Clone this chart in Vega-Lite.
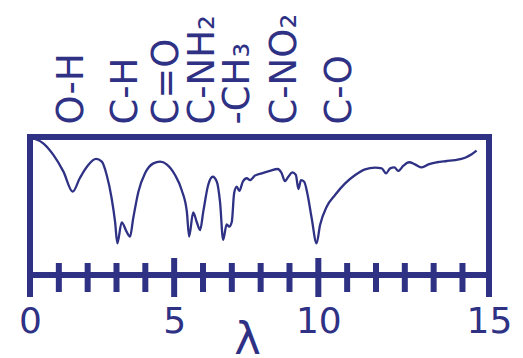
{
  "$schema": "https://vega.github.io/schema/vega-lite/v6.json",
  "width": 459,
  "height": 138,
  "autosize": "none",
  "padding": {"left": 30, "top": 137, "right": 34, "bottom": 83},
  "background": "white",
  "view": {"stroke": "#2e3184", "strokeWidth": 6},
  "datasets": {
    "spectrum": [
      {"lambda": 0.11, "T": 99.1},
      {"lambda": 0.46, "T": 95.4},
      {"lambda": 0.81, "T": 87.0},
      {"lambda": 1.16, "T": 74.9},
      {"lambda": 1.48, "T": 60.4},
      {"lambda": 1.73, "T": 70.3},
      {"lambda": 2.02, "T": 79.7},
      {"lambda": 2.29, "T": 84.1},
      {"lambda": 2.49, "T": 82.1},
      {"lambda": 2.66, "T": 72.5},
      {"lambda": 2.83, "T": 55.8},
      {"lambda": 2.95, "T": 38.6},
      {"lambda": 3.03, "T": 23.0},
      {"lambda": 3.18, "T": 38.2},
      {"lambda": 3.35, "T": 31.4},
      {"lambda": 3.47, "T": 27.8},
      {"lambda": 3.58, "T": 41.1},
      {"lambda": 3.76, "T": 60.4},
      {"lambda": 3.99, "T": 73.7},
      {"lambda": 4.28, "T": 80.9},
      {"lambda": 4.51, "T": 82.1},
      {"lambda": 4.74, "T": 80.2},
      {"lambda": 5.03, "T": 72.5},
      {"lambda": 5.26, "T": 61.6},
      {"lambda": 5.44, "T": 45.9},
      {"lambda": 5.52, "T": 27.8},
      {"lambda": 5.66, "T": 45.4},
      {"lambda": 5.78, "T": 38.6},
      {"lambda": 5.90, "T": 32.6},
      {"lambda": 6.01, "T": 45.9},
      {"lambda": 6.18, "T": 65.2},
      {"lambda": 6.34, "T": 71.2},
      {"lambda": 6.48, "T": 67.6},
      {"lambda": 6.59, "T": 53.1},
      {"lambda": 6.70, "T": 25.4},
      {"lambda": 6.82, "T": 36.7},
      {"lambda": 6.91, "T": 35.0},
      {"lambda": 7.00, "T": 38.6},
      {"lambda": 7.08, "T": 59.2},
      {"lambda": 7.17, "T": 64.0},
      {"lambda": 7.26, "T": 60.9},
      {"lambda": 7.38, "T": 67.6},
      {"lambda": 7.52, "T": 70.1},
      {"lambda": 7.63, "T": 68.8},
      {"lambda": 7.80, "T": 72.0},
      {"lambda": 8.04, "T": 73.7},
      {"lambda": 8.32, "T": 75.4},
      {"lambda": 8.59, "T": 76.8},
      {"lambda": 8.73, "T": 73.7},
      {"lambda": 8.84, "T": 68.1},
      {"lambda": 8.96, "T": 71.2},
      {"lambda": 9.10, "T": 74.4},
      {"lambda": 9.22, "T": 72.5},
      {"lambda": 9.31, "T": 62.3},
      {"lambda": 9.40, "T": 68.8},
      {"lambda": 9.51, "T": 67.6},
      {"lambda": 9.63, "T": 58.0},
      {"lambda": 9.77, "T": 41.1},
      {"lambda": 9.94, "T": 23.0},
      {"lambda": 10.06, "T": 36.2},
      {"lambda": 10.29, "T": 49.5},
      {"lambda": 10.58, "T": 58.0},
      {"lambda": 10.93, "T": 66.4},
      {"lambda": 11.28, "T": 72.5},
      {"lambda": 11.62, "T": 76.6},
      {"lambda": 11.97, "T": 77.8},
      {"lambda": 12.20, "T": 77.3},
      {"lambda": 12.35, "T": 73.7},
      {"lambda": 12.49, "T": 77.3},
      {"lambda": 12.64, "T": 78.0},
      {"lambda": 12.77, "T": 75.4},
      {"lambda": 12.95, "T": 79.2},
      {"lambda": 13.15, "T": 81.7},
      {"lambda": 13.35, "T": 80.2},
      {"lambda": 13.59, "T": 78.0},
      {"lambda": 13.82, "T": 80.2},
      {"lambda": 14.11, "T": 81.7},
      {"lambda": 14.45, "T": 82.6},
      {"lambda": 14.74, "T": 83.3},
      {"lambda": 15.09, "T": 85.0},
      {"lambda": 15.32, "T": 87.5},
      {"lambda": 15.49, "T": 90.1}
    ],
    "groups": [
      {"lambda": 1.47, "group": "O-H"},
      {"lambda": 3.32, "group": "C-H"},
      {"lambda": 4.76, "group": "C=O"},
      {"lambda": 5.99, "group": "C-NH₂"},
      {"lambda": 7.21, "group": "-CH₃"},
      {"lambda": 8.84, "group": "C-NO₂"},
      {"lambda": 10.75, "group": "C-O"}
    ],
    "ticks": [
      {"at": 0}, {"at": 1}, {"at": 2}, {"at": 3}, {"at": 4}, {"at": 5},
      {"at": 6}, {"at": 7}, {"at": 8}, {"at": 9}, {"at": 10}, {"at": 11},
      {"at": 12}, {"at": 13}, {"at": 14}, {"at": 15}, {"at": 15.92}
    ]
  },
  "layer": [
    {
      "data": {"name": "spectrum"},
      "mark": {"type": "line", "color": "#2e3184", "strokeWidth": 2.3, "interpolate": "monotone"},
      "encoding": {
        "x": {
          "field": "lambda",
          "type": "quantitative",
          "scale": {"domain": [0, 15.92], "nice": false, "zero": false},
          "axis": {
            "orient": "bottom",
            "values": [0, 5, 10, 15.92],
            "tickCount": 30,
            "format": "d",
            "domain": false,
            "grid": false,
            "ticks": true,
            "tickOpacity": 0,
            "tickSize": 22,
            "labelExpr": "datum.value > 15.5 ? '15' : datum.label",
            "labelFont": "DejaVu Sans",
            "labelFontSize": 36,
            "labelColor": "#2e3184",
            "labelPadding": 7,
            "labelFlush": false,
            "labelOverlap": false,
            "labelBaseline": "top",
            "title": "λ",
            "titleFont": "DejaVu Sans",
            "titleFontSize": 45,
            "titleFontWeight": "normal",
            "titleColor": "#2e3184",
            "titleX": 217,
            "titleY": 78,
            "titleBaseline": "alphabetic",
            "titleAlign": "center"
          }
        },
        "y": {
          "field": "T",
          "type": "quantitative",
          "scale": {"domain": [0, 100], "nice": false, "zero": false},
          "axis": null
        }
      }
    },
    {
      "data": {"name": "ticks"},
      "mark": {"type": "tick", "orient": "vertical", "thickness": 6, "color": "#2e3184", "opacity": 1, "yOffset": 2.5},
      "encoding": {
        "x": {"field": "at", "type": "quantitative"},
        "y": {"datum": 0, "type": "quantitative", "scale": {"domain": [0, 100], "nice": false, "zero": false}},
        "size": {"condition": {"test": "datum.at === 0 || datum.at === 5 || datum.at === 10 || datum.at > 15.5", "value": 39}, "value": 29}
      }
    },
    {
      "data": {"name": "groups"},
      "mark": {"type": "text", "angle": 270, "align": "left", "baseline": "middle", "font": "DejaVu Sans", "fontSize": 37, "color": "#2e3184"},
      "encoding": {
        "x": {"field": "lambda", "type": "quantitative"},
        "y": {"datum": 109, "type": "quantitative", "scale": {"domain": [0, 100], "nice": false, "zero": false}},
        "text": {"field": "group"}
      }
    }
  ]
}
